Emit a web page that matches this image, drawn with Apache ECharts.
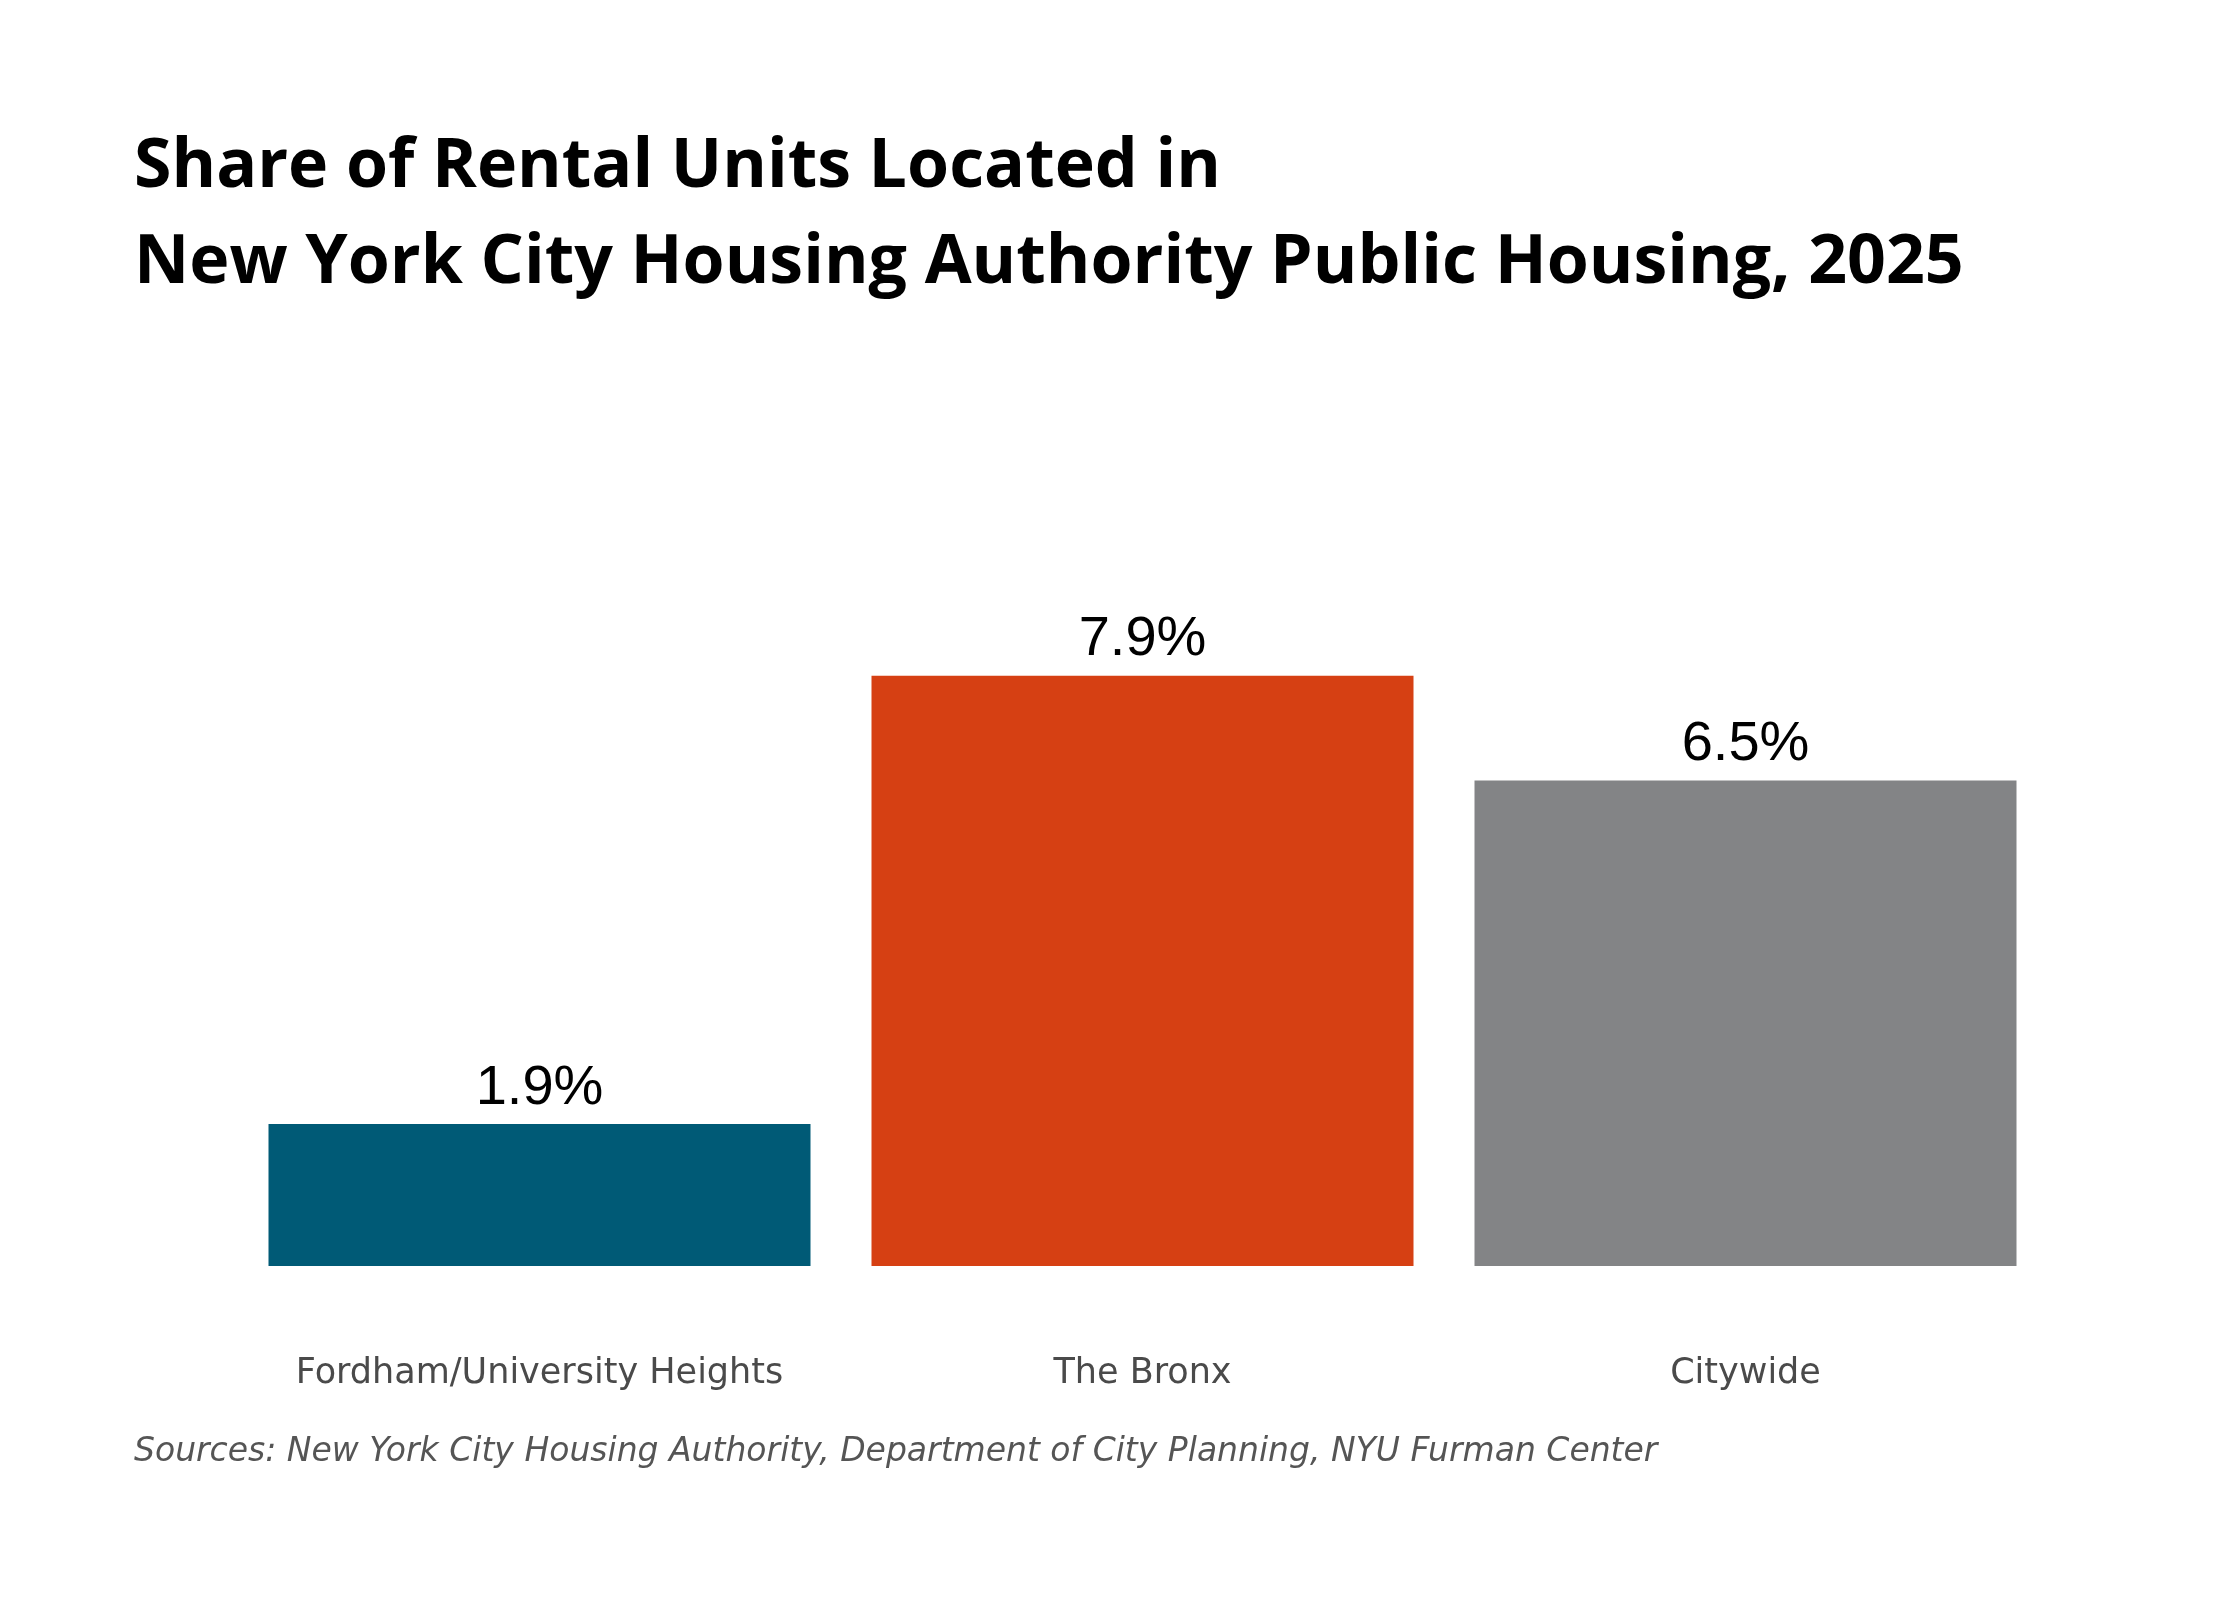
<!DOCTYPE html>
<html>
<head>
<meta charset="utf-8">
<title>NYCHA public housing share</title>
<script src="https://cdn.jsdelivr.net/npm/echarts@6/dist/echarts.min.js"></script>
<style>
  html, body { margin: 0; padding: 0; background: #fff; }
  #chart { width: 2240px; height: 1600px; }
</style>
</head>
<body>
<div id="chart"></div>
<script>
// data
const categories = ['Fordham/University Heights', 'The Bronx', 'Citywide'];
const shares = [1.9, 7.9, 6.5];
const barColors = ['#005a76', '#d64013', '#838486'];

const titleText = 'Share of Rental Units Located in\nNew York City Housing Authority Public Housing, 2025';
const sourceText = 'Sources: New York City Housing Authority, Department of City Planning, NYU Furman Center';

const chart = echarts.init(document.getElementById('chart'), null, { renderer: 'canvas' });

const option = {
  backgroundColor: '#ffffff',
  animation: false,
  title: [{
    text: titleText,
    left: 134,
    top: 120,
    padding: 0,
    textStyle: {
      fontFamily: 'Open Sans',
      fontWeight: 'bold',
      fontSize: 68,
      lineHeight: 96,
      color: '#000'
    }
  }, {
    text: sourceText,
    left: 134,
    top: 1437,
    padding: 0,
    textStyle: {
      fontFamily: 'DejaVu Sans',
      fontStyle: 'italic',
      fontWeight: 'normal',
      fontSize: 33,
      lineHeight: 30,
      color: '#555'
    }
  }],
  grid: {
    left: 238,
    right: 193,
    top: 519,
    bottom: 334,
    containLabel: false
  },
  xAxis: {
    type: 'category',
    data: categories,
    axisLine: { show: false },
    axisTick: { show: false },
    axisLabel: {
      interval: 0,
      hideOverlap: false,
      margin: 90,
      fontFamily: 'DejaVu Sans',
      fontSize: 35,
      lineHeight: 35,
      color: '#4a4a4a'
    }
  },
  yAxis: {
    type: 'value',
    min: 0,
    max: 10,
    show: false,
    splitLine: { show: false }
  },
  series: [{
    type: 'bar',
    barWidth: 542,
    data: shares.map((v, i) => ({ value: v, itemStyle: { color: barColors[i] } })),
    label: {
      show: true,
      position: 'top',
      distance: 8,
      fontFamily: 'Liberation Sans',
      fontSize: 56,
      lineHeight: 56,
      color: '#000',
      formatter: p => p.value.toFixed(1) + '%'
    }
  }]
};

chart.setOption(option);
</script>
</body>
</html>
